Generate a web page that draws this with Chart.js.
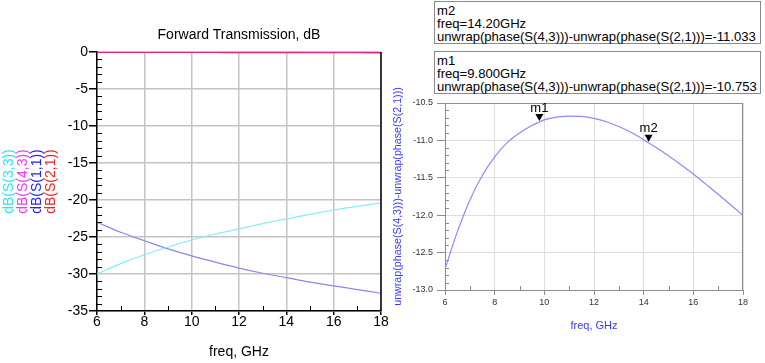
<!DOCTYPE html>
<html>
<head>
<meta charset="utf-8">
<script src="https://cdn.jsdelivr.net/npm/chart.js@4.4.1/dist/chart.umd.min.js"></script>
<style>
  body { margin: 0; width: 765px; height: 363px; background: #fff; position: relative; overflow: hidden;
         font-family: "Liberation Sans", Arial, sans-serif; }
  canvas { position: absolute; top: 0; }
  #leftChart { left: 0; }
  #rightChart { left: 385px; }
  .mbox { position: absolute; left: 434px; width: 327px; height: 43px; border: 1px solid #8a8a8a;
          box-sizing: border-box; padding: 3px 0 0 2px; font-size: 13.1px; line-height: 12.8px;
          color: #000; white-space: nowrap; background: #fff; }
</style>
</head>
<body>
<canvas id="leftChart" width="390" height="363"></canvas>
<canvas id="rightChart" width="380" height="363"></canvas>
<div id="boxes"></div>
<script>
// Forward transmission (left plot)
const freq = [6, 7, 8, 9, 10, 11, 12, 13, 14, 15, 16, 17, 18];
const dbS33 = [-30.0, -28.6, -27.4, -26.35, -25.4, -24.6, -23.9, -23.2, -22.55, -21.95, -21.35, -20.85, -20.4];
const dbS43 = [-0.03, -0.02, -0.02, -0.02, -0.03, -0.03, -0.03, -0.03, -0.03, -0.04, -0.04, -0.04, -0.05];
const dbS11 = [-23.0, -24.35, -25.5, -26.6, -27.55, -28.4, -29.2, -29.9, -30.5, -31.1, -31.6, -32.1, -32.6];
const dbS21 = [-0.05, -0.05, -0.06, -0.06, -0.07, -0.07, -0.08, -0.08, -0.09, -0.09, -0.1, -0.1, -0.11];
const leftLabels = ['dB(S(3,3))', 'dB(S(4,3))', 'dB(S(1,1))', 'dB(S(2,1))'];
const leftTextColors = ['#2ee6ea', '#f03cf0', '#2424f0', '#f02424'];
const leftLineColors = ['#84eef2', '#dc2a8c', '#8888f2', '#ee2232'];

// Phase difference (right plot)
const phaseFreq = [6, 6.5, 7, 7.5, 8, 8.5, 9, 9.5, 9.8, 10, 10.5, 11, 11.5, 12, 12.5, 13, 13.5, 14, 14.2, 14.5, 15, 15.5, 16, 16.5, 17, 17.5, 18];
const phaseDiff = [-12.72, -12.22, -11.8, -11.47, -11.22, -11.03, -10.9, -10.8, -10.753, -10.725, -10.69, -10.675, -10.68, -10.705,
  -10.75, -10.815, -10.895, -10.99, -11.033, -11.095, -11.205, -11.325, -11.45, -11.585, -11.72, -11.86, -12.0];
const markerNames = ['m1', 'm2'];
const markerFreqs = [9.8, 14.2];
const markerValues = [-10.753, -11.033];
const phaseLabel = 'unwrap(phase(S(4,3)))-unwrap(phase(S(2,1)))';

const FONT = '"Liberation Sans", Arial, sans-serif';
const toXY = (xs, ys) => xs.map((x, i) => ({ x: x, y: ys[i] }));

// marker readout boxes (m2 on top, m1 below)
const boxTops = [51, 1];
markerNames.forEach((name, i) => {
  const div = document.createElement('div');
  div.className = 'mbox';
  div.style.top = boxTops[i] + 'px';
  div.innerHTML = name + '<br>freq=' + markerFreqs[i].toPrecision(4) + 'GHz<br>' +
    phaseLabel + '=' + markerValues[i].toFixed(3);
  document.getElementById('boxes').appendChild(div);
});

const leftDecor = {
  id: 'leftDecor',
  afterDraw(chart) {
    const { ctx, chartArea: a, scales: { x, y } } = chart;
    ctx.save();
    ctx.strokeStyle = '#000';
    ctx.lineWidth = 1;
    ctx.beginPath();
    y.ticks.forEach(t => {
      if (Math.abs(t.value % 5) > 1e-6) {
        const py = Math.round(y.getPixelForValue(t.value)) + 0.5;
        ctx.moveTo(a.left, py); ctx.lineTo(a.left + 5, py);
      }
    });
    x.ticks.forEach(t => {
      if (t.value % 2 !== 0) {
        const px = Math.round(x.getPixelForValue(t.value)) + 0.5;
        ctx.moveTo(px, a.bottom); ctx.lineTo(px, a.bottom - 5);
      }
    });
    ctx.stroke();
    ctx.lineWidth = 1.5;
    ctx.beginPath();
    ctx.moveTo(a.right, a.top); ctx.lineTo(a.right, a.bottom);
    ctx.stroke();

    ctx.fillStyle = '#000';
    ctx.font = '14px ' + FONT;
    ctx.textAlign = 'center';
    ctx.textBaseline = 'middle';
    ctx.fillText('Forward Transmission, dB', (a.left + a.right) / 2, 35);

    chart.data.datasets.forEach((ds, i) => {
      ctx.save();
      ctx.translate(9 + i * 14, 181.5);
      ctx.rotate(-Math.PI / 2);
      ctx.fillStyle = leftTextColors[i];
      ctx.fillText(ds.label, 0, 0);
      ctx.restore();
    });
    ctx.restore();
  }
};

new Chart(document.getElementById('leftChart'), {
  type: 'line',
  data: {
    datasets: leftLabels.map((lab, i) => ({
      label: lab,
      data: toXY(freq, [dbS33, dbS43, dbS11, dbS21][i]),
      borderColor: leftLineColors[i],
      borderWidth: 1.2,
      pointRadius: 0,
      cubicInterpolationMode: 'monotone',
      fill: false
    }))
  },
  options: {
    responsive: false,
    animation: false,
    layout: { padding: { top: 52, right: 9, left: 0, bottom: 0 } },
    plugins: { legend: { display: false }, tooltip: { enabled: false } },
    scales: {
      x: {
        type: 'linear', min: 6, max: 18,
        afterFit: s => { s.height = 52; },
        ticks: {
          stepSize: 1, autoSkip: false, maxRotation: 0, padding: -1,
          color: '#000', font: { size: 14, family: FONT },
          callback: v => (v % 2 === 0 ? v : '')
        },
        grid: {
          color: c => (c.tick && c.tick.value % 2 === 0 ? '#c4c4c4' : 'transparent'),
          lineWidth: 1.5, tickLength: 4,
          tickColor: c => (c.tick && c.tick.value % 2 === 0 ? '#000' : 'transparent')
        },
        border: { display: true, color: '#000', width: 1.5 },
        title: { display: true, text: 'freq, GHz', color: '#000', font: { size: 14, family: FONT }, padding: { top: 0, bottom: 2 } }
      },
      y: {
        type: 'linear', min: -35, max: 0,
        afterFit: s => { s.width = 97; },
        ticks: {
          stepSize: 1, autoSkip: false, padding: 1,
          color: '#000', font: { size: 14, family: FONT },
          callback: v => (v % 5 === 0 ? v : '')
        },
        grid: {
          color: c => (c.tick && c.tick.value % 5 === 0 ? '#c4c4c4' : 'transparent'),
          lineWidth: 1.5, tickLength: 8,
          tickColor: c => (c.tick && c.tick.value % 5 === 0 ? '#000' : 'transparent')
        },
        border: { display: true, color: '#000', width: 1.5 }
      }
    }
  },
  plugins: [leftDecor]
});

const isHalf = v => Math.abs(v * 2 - Math.round(v * 2)) < 1e-6;

const rightDecor = {
  id: 'rightDecor',
  afterDraw(chart) {
    const { ctx, chartArea: a, scales: { x, y } } = chart;
    ctx.save();
    ctx.strokeStyle = '#8c8c8c';
    ctx.lineWidth = 1;
    ctx.beginPath();
    y.ticks.forEach(t => {
      if (!isHalf(t.value)) {
        const py = Math.round(y.getPixelForValue(t.value)) + 0.5;
        ctx.moveTo(a.left, py); ctx.lineTo(a.left + 4, py);
      }
    });
    x.ticks.forEach(t => {
      if (t.value % 2 !== 0) {
        const px = Math.round(x.getPixelForValue(t.value)) + 0.5;
        ctx.moveTo(px, a.bottom); ctx.lineTo(px, a.bottom - 4);
      }
    });
    ctx.moveTo(a.left, a.top + 0.5); ctx.lineTo(a.right, a.top + 0.5);
    ctx.moveTo(a.right - 0.5, a.top); ctx.lineTo(a.right - 0.5, a.bottom);
    ctx.stroke();

    // markers
    ctx.fillStyle = '#000';
    ctx.font = '13px ' + FONT;
    ctx.textAlign = 'center';
    ctx.textBaseline = 'middle';
    markerNames.forEach((name, i) => {
      const px = x.getPixelForValue(markerFreqs[i]);
      const py = y.getPixelForValue(markerValues[i]);
      ctx.beginPath();
      ctx.moveTo(px, py - 1);
      ctx.lineTo(px - 4, py - 8);
      ctx.lineTo(px + 4, py - 8);
      ctx.closePath();
      ctx.fill();
      ctx.fillText(name, px, py - 14);
    });
    ctx.restore();
  }
};

new Chart(document.getElementById('rightChart'), {
  type: 'line',
  data: {
    datasets: [{
      label: phaseLabel,
      data: toXY(phaseFreq, phaseDiff),
      borderColor: '#8a8aff',
      borderWidth: 1.2,
      pointRadius: 0,
      cubicInterpolationMode: 'monotone',
      fill: false
    }]
  },
  options: {
    responsive: false,
    animation: false,
    layout: { padding: { top: 103, right: 22, left: 0, bottom: 0 } },
    plugins: { legend: { display: false }, tooltip: { enabled: false } },
    scales: {
      x: {
        type: 'linear', min: 6, max: 18,
        afterFit: s => { s.height = 73; },
        ticks: {
          stepSize: 1, autoSkip: false, maxRotation: 0, padding: 2,
          color: '#333', font: { size: 9, family: FONT },
          callback: v => (v % 2 === 0 ? v : '')
        },
        grid: {
          color: c => (c.tick && c.tick.value % 2 === 0 ? '#dedede' : 'transparent'),
          lineWidth: 1, tickLength: 5,
          tickColor: c => (c.tick && c.tick.value % 2 === 0 ? '#8c8c8c' : 'transparent')
        },
        border: { display: true, color: '#8c8c8c', width: 1 },
        title: { display: true, text: 'freq, GHz', color: '#3a3aff', font: { size: 11, family: FONT }, padding: { top: 0, bottom: 30 } }
      },
      y: {
        type: 'linear', min: -13, max: -10.5,
        afterFit: s => { s.width = 60; },
        ticks: {
          stepSize: 0.1, autoSkip: false, padding: 4,
          color: '#333', font: { size: 9, family: FONT },
          callback: v => (isHalf(v) ? v.toFixed(1) : '')
        },
        grid: {
          color: c => (c.tick && isHalf(c.tick.value) ? '#dedede' : 'transparent'),
          lineWidth: 1, tickLength: 8,
          tickColor: c => (c.tick && isHalf(c.tick.value) ? '#8c8c8c' : 'transparent')
        },
        border: { display: true, color: '#8c8c8c', width: 1 },
        title: { display: true, text: phaseLabel, color: '#3a3aff', font: { size: 10.7, family: FONT }, padding: { top: 6.6, bottom: 0 } }
      }
    }
  },
  plugins: [rightDecor]
});
</script>
</body>
</html>
